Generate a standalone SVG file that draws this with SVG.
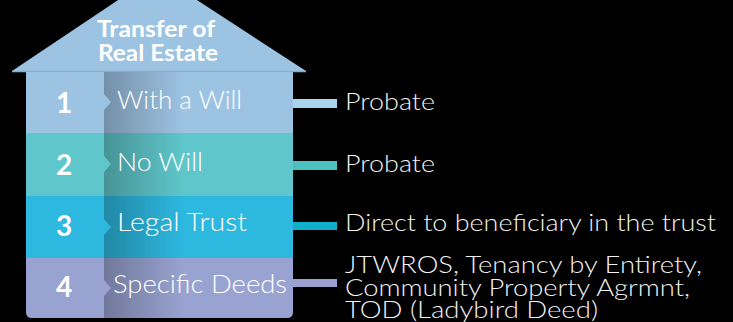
<svg xmlns="http://www.w3.org/2000/svg" width="733" height="322" viewBox="0 0 733 322">
  <defs>
    <linearGradient id="fold" x1="0" y1="0" x2="1" y2="0">
      <stop offset="0" stop-color="#000" stop-opacity="0.26"/>
      <stop offset="1" stop-color="#000" stop-opacity="0"/>
    </linearGradient>
    <style>
      .num { font-family: Lato, "Liberation Sans", sans-serif; font-weight: 700; font-size: 28px; fill: #fff; text-anchor: middle; }
      .lbl { font-family: Lato, "Liberation Sans", sans-serif; font-weight: 300; font-size: 25px; fill: #fff; }
      .out { font-family: Lato, "Liberation Sans", sans-serif; font-weight: 300; font-size: 24px; fill: #f2f2f2; }
      .title { font-family: Lato, "Liberation Sans", sans-serif; font-weight: 700; font-size: 22px; fill: #fff; }
      .c1 { fill: #9dc3e3; }
      .c2 { fill: #5fc7cb; }
      .c3 { fill: #2db8e0; }
      .c4 { fill: #99a3d1; }
    </style>
  </defs>
  <rect width="733" height="322" fill="#000"/>

  <!-- house roof with title -->
  <g id="roof">
    <polygon points="12,71 157,-26 306,71" class="c1"/>
    <line x1="12" y1="71.5" x2="306" y2="71.5" stroke="#86aecf" stroke-width="1.5"/>
    <text class="title" x="97" y="37" textLength="118" lengthAdjust="spacingAndGlyphs">Transfer of</text>
    <text class="title" x="98" y="61" textLength="120" lengthAdjust="spacingAndGlyphs">Real Estate</text>
  </g>

  <!-- row 1 -->
  <g id="row1">
    <rect x="26" y="72" width="267" height="61" class="c1"/>
    <rect x="104" y="72" width="80" height="61" fill="url(#fold)"/>
    <polygon points="26,72 104,72 104,94 111,102 104,110 104,133 26,133" class="c1"/>
    <text class="num" x="64" y="113">1</text>
    <text class="lbl" x="117" y="109" textLength="125" lengthAdjust="spacingAndGlyphs">With a Will</text>
  </g>

  <!-- row 2 -->
  <g id="row2">
    <rect x="26" y="133" width="267" height="63" class="c2"/>
    <rect x="104" y="133" width="80" height="63" fill="url(#fold)"/>
    <polygon points="26,133 104,133 104,156 111,164 104,172 104,196 26,196" class="c2"/>
    <text class="num" x="64" y="175">2</text>
    <text class="lbl" x="117" y="171" textLength="86" lengthAdjust="spacingAndGlyphs">No Will</text>
  </g>

  <!-- row 3 -->
  <g id="row3">
    <rect x="26" y="196" width="267" height="62" class="c3"/>
    <rect x="104" y="196" width="80" height="62" fill="url(#fold)"/>
    <polygon points="26,196 104,196 104,219 111,227 104,235 104,258 26,258" class="c3"/>
    <text class="num" x="64" y="236">3</text>
    <text class="lbl" x="117" y="231" textLength="130" lengthAdjust="spacingAndGlyphs">Legal Trust</text>
  </g>

  <!-- row 4 -->
  <g id="row4">
    <path d="M26,258 H293 V312 Q293,318 287,318 H32 Q26,318 26,312 Z" class="c4"/>
    <rect x="104" y="258" width="80" height="60" fill="url(#fold)"/>
    <polygon points="26,258 104,258 104,280 111,288 104,296 104,318 32,318 Q26,318 26,312" class="c4"/>
    <text class="num" x="64" y="297">4</text>
    <text class="lbl" x="113" y="293" textLength="174" lengthAdjust="spacingAndGlyphs">Specific Deeds</text>
  </g>

  <!-- connectors -->
  <g id="connectors">
    <rect x="293" y="99" width="44" height="9" fill="#a9d2ec"/>
    <rect x="293" y="161" width="44" height="9" fill="#4bc0c0"/>
    <rect x="293" y="222" width="44" height="8" fill="#0fafcb"/>
    <rect x="293" y="279" width="44" height="8" fill="#9aa0d0"/>
  </g>

  <!-- outcomes -->
  <g id="outcome1"><text class="out" x="345" y="110" textLength="90" lengthAdjust="spacingAndGlyphs">Probate</text></g>
  <g id="outcome2"><text class="out" x="345" y="172" textLength="90" lengthAdjust="spacingAndGlyphs">Probate</text></g>
  <g id="outcome3"><text class="out" x="345" y="231" textLength="371" lengthAdjust="spacingAndGlyphs">Direct to beneficiary in the trust</text></g>
  <g id="outcome4">
    <text class="out" x="345" y="273" textLength="357" lengthAdjust="spacingAndGlyphs">JTWROS, Tenancy by Entirety,</text>
    <text class="out" x="345" y="296" textLength="345" lengthAdjust="spacingAndGlyphs">Community Property Agrmnt,</text>
    <text class="out" x="345" y="318" textLength="253" lengthAdjust="spacingAndGlyphs">TOD (Ladybird Deed)</text>
  </g>
</svg>
